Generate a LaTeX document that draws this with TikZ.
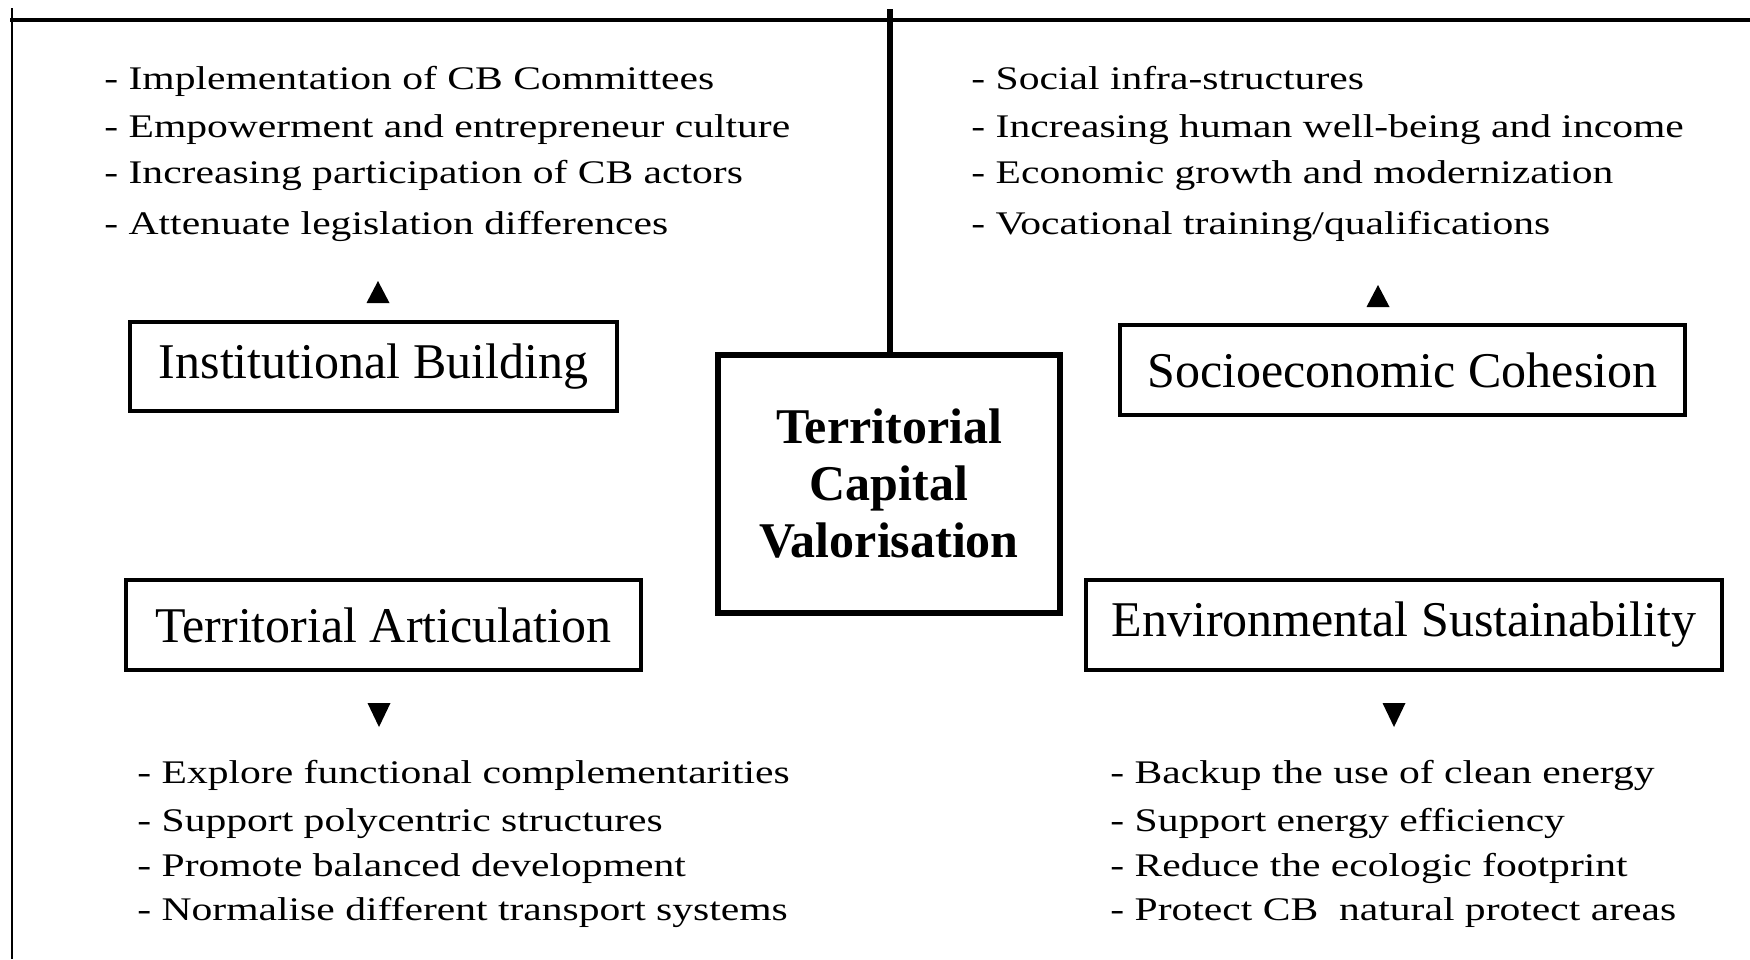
\documentclass[tikz,border=0pt]{standalone}
\usepackage{fontspec}
\setmainfont{Liberation Serif}
\newcommand{\wide}[1]{\scalebox{1.26}[1]{#1}}
\begin{document}
\begin{tikzpicture}[x=0.5pt,y=-0.5pt,
  item/.style={anchor=base west, inner sep=0pt, font=\fontsize{16.5}{18}\selectfont},
  lab/.style={draw, line width=1.8pt, inner sep=0pt, font=\fontsize{25}{28}\selectfont},
  core/.style={draw, line width=3.4pt, inner sep=0pt, align=center, font=\bfseries\fontsize{25}{28.5}\selectfont},
  frame/.style={line width=1.8pt},
  stem/.style={line width=3.4pt},
  tip/.style={fill=black}]
\useasboundingbox (0,0) rectangle (1750,959);
\fill[white] (0,0) rectangle (1750,959);
% frame
\draw[line width=1pt] (12,8) -- (12,959);
\draw[frame] (10,20) -- (1750,20);
% central box
\node[core, minimum width=171pt, minimum height=129pt] (c) at (889,484)
  {Territorial\\Capital\\Valorisation};
\coordinate (topc) at (890,9);
\draw[stem] (topc) -- (topc |- c.north);
% dimension boxes
\node[lab, minimum width=243.5pt, minimum height=44.5pt] (ib) at (373.5,366.5) {Institutional Building};
\node[lab, minimum width=282.5pt, minimum height=45pt] (sc) at (1402.5,370) {Socioeconomic Cohesion};
\node[lab, minimum width=257.5pt, minimum height=45pt] (ta) at (383.5,625) {Territorial Articulation};
\node[lab, minimum width=318pt, minimum height=45pt] (es) at (1404,625) {Environmental Sustainability};
% triangles
\fill[tip] (378,281) -- (389.5,303) -- (366.5,303) -- cycle;
\fill[tip] (1378,285) -- (1389.5,307) -- (1366.5,307) -- cycle;
\fill[tip] (379,727) -- (390.5,703) -- (367.5,703) -- cycle;
\fill[tip] (1394,727) -- (1405.5,703) -- (1382.5,703) -- cycle;
% lists
\node[item] (tl1) at (104,89) {\wide{- Implementation of CB Committees}};
\node[item] (tl2) at (104,137) {\wide{- Empowerment and entrepreneur culture}};
\node[item] (tl3) at (104,183) {\wide{- Increasing participation of CB actors}};
\node[item] (tl4) at (104,234) {\wide{- Attenuate legislation differences}};
\node[item] (tr1) at (971,89) {\wide{- Social infra-structures}};
\node[item] (tr2) at (971,137) {\wide{- Increasing human well-being and income}};
\node[item] (tr3) at (971,183) {\wide{- Economic growth and modernization}};
\node[item] (tr4) at (971,234) {\wide{- Vocational training/qualifications}};
\node[item] (bl1) at (137,783) {\wide{- Explore functional complementarities}};
\node[item] (bl2) at (137,831) {\wide{- Support polycentric structures}};
\node[item] (bl3) at (137,876) {\wide{- Promote balanced development}};
\node[item] (bl4) at (137,920) {\wide{- Normalise different transport systems}};
\node[item] (br1) at (1110,783) {\wide{- Backup the use of clean energy}};
\node[item] (br2) at (1110,831) {\wide{- Support energy efficiency}};
\node[item] (br3) at (1110,876) {\wide{- Reduce the ecologic footprint}};
\node[item] (br4) at (1110,920) {\wide{- Protect CB\ \ natural protect areas}};
\end{tikzpicture}
\end{document}
